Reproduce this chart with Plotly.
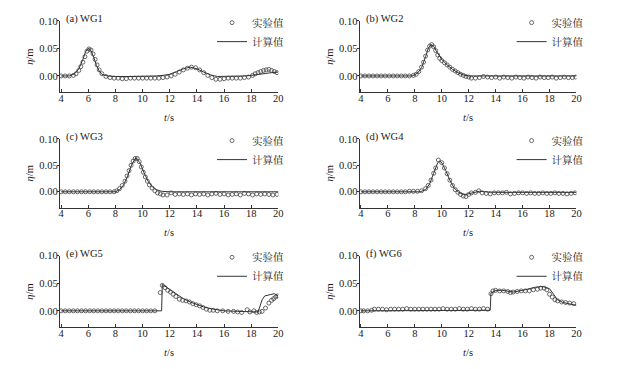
import plotly.graph_objects as go

# ---------------- data ----------------
panel_titles = ["(a) WG1", "(b) WG2", "(c) WG3", "(d) WG4", "(e) WG5", "(f) WG6"]
legend_names = ["实验值", "计算值"]
x_ticks = [4, 6, 8, 10, 12, 14, 16, 18, 20]
y_ticks = [0.00, 0.05, 0.10]

# WG1
exp_t_a = [4.0, 4.3, 4.6, 4.9, 5.1, 5.3, 5.45, 5.6, 5.75, 5.9, 6.05, 6.2, 6.35, 6.5, 6.65, 6.8, 7.0, 7.3, 7.6,
           7.9, 8.2, 8.5, 8.8, 9.1, 9.4, 9.7, 10.0, 10.3, 10.6, 10.9, 11.2, 11.5, 11.8, 12.1, 12.4, 12.7,
           13.0, 13.3, 13.6, 13.9, 14.2, 14.5, 14.8, 15.1, 15.4, 15.7, 16.0, 16.3, 16.6, 16.9, 17.2, 17.5,
           17.8, 18.1, 18.3, 18.5, 18.7, 18.9, 19.1, 19.3, 19.5, 19.7, 19.9]
exp_v_a = [0.0, 0.0, 0.0, 0.001, 0.004, 0.01, 0.017, 0.025, 0.035, 0.045, 0.049, 0.047, 0.04, 0.03, 0.02,
           0.011, 0.004, -0.001, -0.003, -0.004, -0.004, -0.005, -0.005, -0.004, -0.004, -0.004, -0.004,
           -0.004, -0.004, -0.004, -0.004, -0.003, -0.002, 0.0, 0.003, 0.007, 0.011, 0.014, 0.016, 0.015,
           0.011, 0.006, 0.001, -0.003, -0.006, -0.006, -0.005, -0.004, -0.004, -0.004, -0.004, -0.003,
           -0.002, 0.001, 0.004, 0.006, 0.008, 0.01, 0.011, 0.012, 0.01, 0.008, 0.006]
num_t_a = [4.0, 4.6, 5.0, 5.3, 5.6, 5.8, 6.0, 6.2, 6.4, 6.6, 6.8, 7.0, 7.4, 8.0, 9.0, 10.0, 11.0, 11.5,
           12.0, 12.5, 13.0, 13.5, 14.0, 14.5, 15.0, 15.5, 16.0, 17.0, 17.5, 18.0, 18.5, 19.0, 19.5, 20.0]
num_v_a = [0.0, 0.0, 0.004, 0.013, 0.03, 0.044, 0.05, 0.046, 0.034, 0.019, 0.009, 0.003, 0.0, -0.001,
           -0.001, -0.001, 0.0, 0.001, 0.003, 0.008, 0.013, 0.016, 0.013, 0.007, 0.002, -0.001, -0.001,
           0.0, 0.0, 0.001, 0.003, 0.005, 0.006, 0.007]

# WG2
exp_t_b = [4.0, 4.3, 4.6, 4.9, 5.2, 5.5, 5.8, 6.1, 6.4, 6.7, 7.0, 7.3, 7.6, 7.9, 8.1, 8.3, 8.5, 8.65, 8.8,
           8.95, 9.1, 9.25, 9.4, 9.55, 9.7, 9.85, 10.0, 10.2, 10.4, 10.6, 10.8, 11.0, 11.2, 11.4, 11.6, 11.8,
           12.0, 12.2, 12.5, 12.8, 13.1, 13.4, 13.7, 14.0, 14.3, 14.6, 14.9, 15.2, 15.5, 15.8, 16.1, 16.4,
           16.7, 17.0, 17.3, 17.6, 17.9, 18.2, 18.5, 18.8, 19.1, 19.4, 19.7, 19.95]
exp_v_b = [0.0, 0.0, 0.0, 0.0, 0.0, 0.0, 0.0, 0.0, 0.0, 0.0, 0.0, 0.0, 0.0, 0.001, 0.003, 0.008, 0.016,
           0.025, 0.036, 0.047, 0.054, 0.057, 0.053, 0.046, 0.038, 0.032, 0.028, 0.024, 0.02, 0.016, 0.012,
           0.009, 0.006, 0.003, 0.001, -0.001, -0.002, -0.004, -0.004, -0.003, -0.001, -0.002, -0.003,
           -0.002, -0.004, -0.002, -0.003, -0.004, -0.002, -0.003, -0.004, -0.002, -0.003, -0.004, -0.002,
           -0.003, -0.003, -0.002, -0.004, -0.003, -0.002, -0.003, -0.003, -0.002]
num_t_b = [4.0, 7.8, 8.2, 8.5, 8.8, 9.0, 9.2, 9.4, 9.6, 9.8, 10.0, 10.4, 10.8, 11.2, 11.6, 12.0, 20.0]
num_v_b = [0.0, 0.0, 0.005, 0.015, 0.035, 0.05, 0.057, 0.054, 0.045, 0.037, 0.03, 0.02, 0.012, 0.006,
           0.002, 0.0, 0.0]

# WG3
exp_t_c = [4.0, 4.3, 4.6, 4.9, 5.2, 5.5, 5.8, 6.1, 6.4, 6.7, 7.0, 7.3, 7.6, 7.9, 8.1, 8.3, 8.5, 8.7, 8.85,
           9.0, 9.15, 9.3, 9.45, 9.6, 9.75, 9.9, 10.05, 10.2, 10.35, 10.5, 10.7, 10.9, 11.1, 11.3, 11.5,
           11.8, 12.1, 12.4, 12.7, 13.0, 13.3, 13.6, 13.9, 14.2, 14.5, 14.8, 15.1, 15.4, 15.7, 16.0, 16.3,
           16.6, 16.9, 17.2, 17.5, 17.8, 18.1, 18.4, 18.7, 19.0, 19.3, 19.6, 19.9]
exp_v_c = [0.0, 0.0, 0.0, 0.0, 0.0, 0.0, 0.0, 0.0, 0.0, 0.0, 0.0, 0.0, 0.0, 0.0, 0.002, 0.006, 0.012,
           0.02, 0.03, 0.04, 0.05, 0.058, 0.063, 0.063, 0.057, 0.047, 0.037, 0.028, 0.02, 0.013, 0.007,
           0.002, -0.002, -0.004, -0.006, -0.006, -0.002, -0.005, -0.004, -0.005, -0.004, -0.006, -0.004,
           -0.005, -0.004, -0.006, -0.004, -0.003, -0.005, -0.004, -0.006, -0.005, -0.004, -0.006, -0.003,
           -0.004, -0.006, -0.004, -0.005, -0.004, -0.005, -0.006, -0.005]
num_t_c = [4.0, 8.0, 8.3, 8.6, 8.9, 9.2, 9.5, 9.8, 10.1, 10.4, 10.7, 11.0, 11.4, 12.0, 20.0]
num_v_c = [0.0, 0.0, 0.004, 0.013, 0.03, 0.052, 0.064, 0.055, 0.036, 0.02, 0.01, 0.004, 0.001, 0.0, 0.0]

# WG4
exp_t_d = [4.0, 4.3, 4.6, 4.9, 5.2, 5.5, 5.8, 6.1, 6.4, 6.7, 7.0, 7.3, 7.6, 7.9, 8.2, 8.5, 8.8, 9.0, 9.2,
           9.4, 9.55, 9.75, 10.0, 10.2, 10.4, 10.6, 10.8, 11.0, 11.2, 11.4, 11.6, 11.8, 12.0, 12.2, 12.5,
           12.75, 13.0, 13.3, 13.6, 13.9, 14.2, 14.5, 14.8, 15.1, 15.4, 15.7, 16.0, 16.3, 16.6, 16.9, 17.2,
           17.5, 17.8, 18.1, 18.4, 18.7, 19.0, 19.3, 19.6, 19.9]
exp_v_d = [0.0, 0.0, 0.0, 0.0, 0.0, 0.0, 0.0, 0.0, 0.0, 0.0, 0.0, 0.0, 0.001, 0.001, 0.001, 0.002, 0.006,
           0.012, 0.022, 0.035, 0.045, 0.06, 0.055, 0.045, 0.034, 0.022, 0.012, 0.004, -0.001, -0.005,
           -0.008, -0.009, -0.005, -0.002, -0.001, 0.002, -0.002, -0.003, -0.004, -0.002, -0.002, -0.002,
           -0.001, -0.004, -0.003, -0.002, -0.002, -0.003, -0.002, -0.003, -0.003, -0.002, -0.003, -0.003,
           -0.002, -0.003, -0.003, -0.004, -0.003, -0.002]
num_t_d = [4.0, 8.4, 8.8, 9.1, 9.4, 9.7, 9.85, 10.0, 10.3, 10.6, 10.9, 11.2, 11.5, 11.8, 12.1, 12.5,
           12.8, 13.2, 14.0, 20.0]
num_v_d = [0.0, 0.0, 0.004, 0.015, 0.035, 0.055, 0.058, 0.055, 0.04, 0.022, 0.008, 0.0, -0.004, -0.005,
           -0.003, 0.0, 0.001, 0.0, -0.001, -0.001]

# WG5
exp_t_e = [4.0, 4.3, 4.6, 4.9, 5.2, 5.5, 5.8, 6.1, 6.4, 6.7, 7.0, 7.3, 7.6, 7.9, 8.2, 8.5, 8.8, 9.1, 9.4,
           9.7, 10.0, 10.3, 10.6, 10.9, 11.3, 11.45, 11.65, 11.85, 12.05, 12.25, 12.45, 12.7, 12.95, 13.2,
           13.45, 13.7, 13.95, 14.2, 14.45, 14.7, 14.95, 15.2, 15.5, 15.9, 16.3, 16.7, 17.0, 17.3, 17.7,
           17.9, 18.2, 18.4, 18.6, 18.8, 19.05, 19.3, 19.5, 19.65, 19.8, 19.95]
exp_v_e = [0.0, 0.0, 0.0, 0.0, 0.0, 0.0, 0.0, 0.0, 0.0, 0.0, 0.0, 0.0, 0.0, 0.0, 0.0, 0.0, 0.0, 0.0, 0.0,
           0.0, 0.0, 0.0, 0.0, 0.0, 0.033, 0.046, 0.042, 0.037, 0.034, 0.03, 0.026, 0.021, 0.019, 0.018,
           0.016, 0.013, 0.011, 0.009, 0.006, 0.003, 0.001, 0.001, 0.0, 0.0, -0.001, -0.001, -0.002,
           -0.003, 0.002, -0.002, 0.0, -0.003, -0.002, -0.001, 0.005, 0.014, 0.019, 0.022, 0.025, 0.027]
num_t_e = [4.0, 11.4, 11.45, 11.7, 12.0, 12.5, 13.0, 13.5, 14.0, 14.5, 15.0, 15.5, 16.0, 17.0, 18.0,
           18.5, 18.6, 18.8, 19.0, 19.4, 19.7, 20.0]
num_v_e = [0.0, 0.0, 0.048, 0.044, 0.038, 0.03, 0.022, 0.016, 0.011, 0.007, 0.004, 0.002, 0.0, -0.001,
           -0.002, -0.002, 0.005, 0.02, 0.027, 0.03, 0.031, 0.027]

# WG6
exp_t_f = [4.0, 4.2, 4.5, 4.8, 5.0, 5.3, 5.6, 5.9, 6.2, 6.5, 6.8, 7.1, 7.4, 7.7, 8.0, 8.3, 8.6, 8.9, 9.2,
           9.5, 9.8, 10.1, 10.4, 10.7, 11.0, 11.3, 11.6, 11.9, 12.2, 12.5, 12.8, 13.1, 13.4, 13.65, 13.8,
           14.0, 14.3, 14.6, 14.9, 15.1, 15.3, 15.6, 15.9, 16.2, 16.5, 16.8, 17.1, 17.35, 17.6, 17.8, 18.0,
           18.2, 18.4, 18.6, 18.9, 19.2, 19.5, 19.8]
exp_v_f = [0.0, 0.0, 0.0, 0.001, 0.003, 0.003, 0.003, 0.002, 0.003, 0.003, 0.003, 0.003, 0.004, 0.003,
           0.003, 0.003, 0.003, 0.003, 0.003, 0.003, 0.003, 0.004, 0.003, 0.003, 0.003, 0.004, 0.003,
           0.003, 0.004, 0.003, 0.003, 0.004, 0.003, 0.031, 0.036, 0.037, 0.036, 0.036, 0.035, 0.033,
           0.034, 0.035, 0.036, 0.036, 0.036, 0.038, 0.039, 0.041, 0.041, 0.038, 0.03, 0.025, 0.02, 0.018,
           0.016, 0.015, 0.014, 0.013]
num_t_f = [4.0, 4.8, 5.0, 13.6, 13.65, 14.0, 14.5, 15.0, 15.3, 16.0, 16.5, 17.0, 17.5, 18.0, 18.3, 18.6,
           19.0, 19.5, 20.0]
num_v_f = [0.0, 0.0, 0.001, 0.001, 0.032, 0.037, 0.037, 0.035, 0.034, 0.037, 0.04, 0.043, 0.044, 0.04,
           0.03, 0.02, 0.015, 0.012, 0.01]

exp_t = [exp_t_a, exp_t_b, exp_t_c, exp_t_d, exp_t_e, exp_t_f]
exp_v = [exp_v_a, exp_v_b, exp_v_c, exp_v_d, exp_v_e, exp_v_f]
num_t = [num_t_a, num_t_b, num_t_c, num_t_d, num_t_e, num_t_f]
num_v = [num_v_a, num_v_b, num_v_c, num_v_d, num_v_e, num_v_f]

# ---------------- layout ----------------
OFF = 8                       # default page body margin
W, H = 629 - OFF, 369 - OFF   # figure size so the page is filled exactly
FONT = '"Liberation Serif", "Times New Roman", "Noto Serif CJK SC", "Noto Sans CJK SC", serif'
TXT = "#1a1a1a"
INK = "#333333"

# positions in page pixels
col_x = [(59.3, 280.0), (362.0, 581.0)]                   # axis left/right
row_y = [(14.0, 87.0), (134.3, 204.5), (253.3, 326.6)]    # axis top/bottom


def px(xp):
    return (xp - OFF) / W


def py(yp):
    return 1 - (yp - OFF) / H


fig = go.Figure()
layout = dict(
    width=W, height=H,
    margin=dict(l=0, r=0, t=0, b=0),
    paper_bgcolor="white", plot_bgcolor="white",
    font=dict(family=FONT, size=10.5, color=TXT),
    annotations=[],
)

for i in range(6):
    r, c = divmod(i, 2)
    k = i + 1
    xa = "xaxis" if k == 1 else f"xaxis{k}"
    ya = "yaxis" if k == 1 else f"yaxis{k}"
    xr = "x" if k == 1 else f"x{k}"
    yr = "y" if k == 1 else f"y{k}"
    lg = "legend" if k == 1 else f"legend{k}"

    fig.add_trace(go.Scatter(
        x=exp_t[i], y=exp_v[i], mode="markers", name=legend_names[0],
        xaxis=xr, yaxis=yr, legend=lg,
        marker=dict(symbol="circle-open", size=4, color="#444444", line=dict(width=0.8, color="#444444")),
    ))
    fig.add_trace(go.Scatter(
        x=num_t[i], y=num_v[i], mode="lines", name=legend_names[1],
        xaxis=xr, yaxis=yr, legend=lg,
        line=dict(color=INK, width=1),
    ))

    x0, x1 = col_x[c]
    y0, y1 = row_y[r]
    layout[xa] = dict(
        domain=[px(x0), px(x1)], range=[3.9, 20], anchor=yr,
        tickvals=x_ticks, ticks="inside", ticklen=3, tickcolor=INK,
        ticklabelstandoff=-4,
        showline=True, linecolor=INK, linewidth=1, showgrid=False, zeroline=False,
        tickfont=dict(size=10.5, color=TXT),
        title=dict(text="<i>t</i>/s", standoff=10, font=dict(size=10.5, color=TXT)),
    )
    layout[ya] = dict(
        domain=[py(y1), py(y0)], range=[-0.03, 0.10], anchor=xr,
        tickvals=y_ticks, tickformat=".2f", ticks="outside", ticklen=2, tickcolor=INK,
        ticklabelstandoff=-3,
        showline=True, linecolor=INK, linewidth=1, showgrid=False, zeroline=False,
        tickfont=dict(size=10.5, color=TXT),
        title=dict(text="<i>η</i>/m", standoff=3, font=dict(size=10.5, color=TXT)),
    )
    layout[lg] = dict(
        x=px(x1 - 67 + 1.5 * c), y=py(y0 - 13), xanchor="left", yanchor="top",
        bgcolor="rgba(0,0,0,0)", borderwidth=0,
        font=dict(family=FONT, size=10.5, color=TXT),
        itemwidth=30, tracegroupgap=0,
    )
    layout["annotations"].append(dict(
        text=panel_titles[i], xref="paper", yref="paper",
        x=px(x0 + 4), y=py(y0 - 1.5), xanchor="left", yanchor="middle",
        showarrow=False, font=dict(family=FONT, size=10.5, color=TXT),
    ))

fig.update_layout(**layout)
fig.write_html("out.html")
